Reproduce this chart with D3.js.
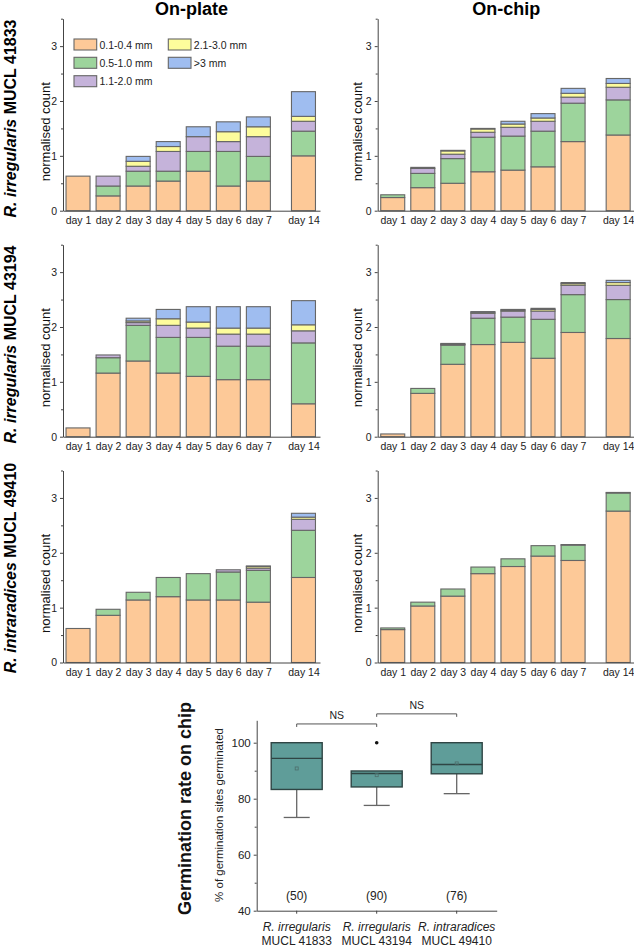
<!DOCTYPE html>
<html><head><meta charset="utf-8">
<script src="https://cdn.jsdelivr.net/npm/d3@7"></script>
<style>body{margin:0;background:#fff;} svg{display:block;font-family:"Liberation Sans",Arial,sans-serif;}</style>
</head><body><svg id="c" width="634" height="947"></svg>
<script>
// ---------- data ----------
const days = ["day 1","day 2","day 3","day 4","day 5","day 6","day 7","day 14"];
const dayNumbers = [1,2,3,4,5,6,7,14];
const sizeClasses = ["0.1-0.4 mm","0.5-1.0 mm","1.1-2.0 mm","2.1-3.0 mm",">3 mm"];
const sizeColors = ["#fdc998","#9dd49c","#c5b3da","#fdfc9c","#9fbdf0"];
const yTicks = [0,1,2,3];
const yMinorTicks = [0.5,1.5,2.5,3.5];
const columnTitles = ["On-plate","On-chip"];
const strainItalic = ["R. irregularis","R. irregularis","R. intraradices"];
const strainCode = ["MUCL 41833","MUCL 43194","MUCL 49410"];

// segment heights per size class (rows) per day (columns)
const plate41833 = [
  [0.63,0.27,0.45,0.54,0.72,0.45,0.54,1.00],
  [0,   0.18,0.27,0.18,0.36,0.63,0.45,0.45],
  [0,   0.18,0.09,0.36,0.27,0.18,0.36,0.18],
  [0,   0,   0.09,0.09,0,   0.18,0.18,0.09],
  [0,   0,   0.09,0.09,0.18,0.18,0.18,0.45]];
const chip41833 = [
  [0.24,0.42,0.50,0.71,0.74,0.80,1.26,1.38],
  [0.05,0.26,0.45,0.63,0.62,0.65,0.70,0.64],
  [0,   0.09,0.08,0.09,0.16,0.18,0.11,0.23],
  [0,   0.02,0.06,0.06,0.06,0.06,0.07,0.07],
  [0,   0,   0.01,0.01,0.05,0.08,0.09,0.09]];
const plate43194 = [
  [0.16,1.16,1.38,1.16,1.10,1.04,1.04,0.60],
  [0,   0.28,0.65,0.65,0.71,0.61,0.61,1.11],
  [0,   0.05,0.05,0.22,0.17,0.22,0.22,0.22],
  [0,   0,   0.03,0.12,0.11,0.11,0.11,0.11],
  [0,   0,   0.05,0.17,0.28,0.39,0.39,0.44]];
const chip43194 = [
  [0.05,0.79,1.32,1.68,1.72,1.43,1.90,1.79],
  [0,   0.09,0.35,0.48,0.46,0.71,0.69,0.71],
  [0,   0,   0.01,0.09,0.11,0.15,0.17,0.26],
  [0,   0,   0.01,0.02,0.02,0.03,0.03,0.05],
  [0,   0,   0.01,0.01,0.01,0.02,0.02,0.04]];
const plate49410 = [
  [0.62,0.86,1.14,1.20,1.14,1.14,1.10,1.55],
  [0,   0.11,0.14,0.35,0.48,0.51,0.58,0.86],
  [0,   0,   0,   0,   0,   0.04,0.04,0.20],
  [0,   0,   0,   0,   0,   0,   0.03,0.04],
  [0,   0,   0,   0,   0,   0,   0.01,0.07]];
const chip49410 = [
  [0.60,1.03,1.21,1.62,1.75,1.94,1.86,2.76],
  [0.03,0.07,0.13,0.12,0.14,0.19,0.28,0.33],
  [0,   0,   0,   0,   0,   0,   0.01,0.01],
  [0,   0,   0,   0,   0,   0,   0,   0],
  [0,   0,   0,   0,   0,   0,   0,   0]];
const panels = [[plate41833, chip41833],[plate43194, chip43194],[plate49410, chip49410]];

// box plot
const boxGroups = ["41833","43194","49410"];
const boxItalic = ["R. irregularis","R. irregularis","R. intraradices"];
const boxCode = ["MUCL 41833","MUCL 43194","MUCL 49410"];
const boxMin = [73.3,77.6,81.8];
const boxQ1 = [83.3,84.2,88.9];
const boxMedian = [94.4,89.0,92.2];
const boxQ3 = [100,89.9,100];
const boxMax = [100,89.9,100];
const boxMean = [90.8,88.4,92.6];
const boxOutliers = [[],[100],[]];
const boxCounts = ["(50)","(90)","(76)"];
const boxTicks = [40,60,80,100];
const boxMinorTicks = [50,70,90];

// ---------- drawing ----------
const svg = d3.select("#c");
const colX = [63, 377.7];
const rowY = [210.7, 436.7, 662.5];
const pw = 257, ph = 192, barW = 24;
const axisCol = "#444";

function styleAxis(g){
  g.selectAll("path,line").attr("stroke",axisCol).attr("stroke-width",1);
  g.selectAll("text").attr("fill","#222").style("font-family",'"Liberation Sans",Arial,sans-serif');
}

// column titles
columnTitles.forEach((t,c)=>{
  svg.append("text").attr("x",colX[c]+pw/2).attr("y",15).attr("text-anchor","middle")
    .attr("font-size",18).attr("font-weight","bold").text(t);
});

// row labels
rowY.forEach((y0,r)=>{
  const cy = [118.5,344.5,568][r];
  const t = svg.append("text").attr("transform",`translate(16,${cy}) rotate(-90)`)
    .attr("text-anchor","middle").attr("font-size",16).attr("font-weight","bold");
  t.append("tspan").attr("font-style","italic").text(strainItalic[r]);
  t.append("tspan").text(" "+strainCode[r]);
});

panels.forEach((row,r)=>{
  row.forEach((series,c)=>{
    const ax = colX[c], y0 = rowY[r];
    const x = d3.scaleLinear().domain([0.5,7,14,14.55])
      .range([ax, ax+6.5/8.55*pw, ax+8/8.55*pw, ax+pw]);
    const y = d3.scaleLinear().domain([0,3.5]).range([y0, y0-ph]);
    const table = dayNumbers.map((d,i)=>{
      const o = {day:d};
      sizeClasses.forEach((k,j)=>o[k]=series[j][i]);
      return o;
    });
    const stack = d3.stack().keys(sizeClasses)(table);
    const g = svg.append("g");
    stack.forEach((s,j)=>{
      g.selectAll(null).data(s.filter(d=>d[1]-d[0]>0)).enter().append("rect")
        .attr("x",d=>x(d.data.day)-barW/2).attr("width",barW)
        .attr("y",d=>y(d[1])).attr("height",d=>y(d[0])-y(d[1]))
        .attr("fill",sizeColors[j]).attr("stroke","#666").attr("stroke-width",1.1);
    });
    // axes
    const ya = svg.append("g").attr("transform",`translate(${ax},0)`)
      .call(d3.axisLeft(y).tickValues(yTicks).tickSize(3).tickSizeOuter(0).tickPadding(3).tickFormat(d3.format("d")));
    ya.selectAll("text").attr("font-size",10.5);
    styleAxis(ya);
    const ym = svg.append("g").attr("transform",`translate(${ax},0)`)
      .call(d3.axisLeft(y).tickValues(yMinorTicks).tickSize(2).tickFormat(""));
    ym.select("path").remove();
    styleAxis(ym);
    const xa = svg.append("g").attr("transform",`translate(0,${y0})`)
      .call(d3.axisBottom(x).tickValues(dayNumbers).tickSize(0).tickSizeOuter(0).tickPadding(6)
        .tickFormat((d,i)=>days[i]));
    xa.selectAll("text").attr("font-size",10.5);
    styleAxis(xa);
    // y label
    svg.append("text").attr("transform",`translate(${ax-(c===0?13:16)},${y0-79}) rotate(-90)`)
      .attr("text-anchor","middle").attr("font-size",13).attr("fill","#111").text("normalised count");
    // legend
    if(r===0 && c===0){
      const lx = [ax+11, ax+105.3], ly = [y0-171.7, y0-153.4, y0-135];
      sizeClasses.forEach((k,j)=>{
        const col = j<3?0:1, rr = j<3?j:j-3;
        svg.append("rect").attr("x",lx[col]).attr("y",ly[rr]).attr("width",22.7).attr("height",11)
          .attr("fill",sizeColors[j]).attr("stroke","#666").attr("stroke-width",1.1);
        svg.append("text").attr("x",lx[col]+25.5).attr("y",ly[rr]+9.5).attr("font-size",10.5)
          .attr("fill","#222").text(k);
      });
    }
  });
});

// ---------- box plot ----------
const by = d3.scaleLinear().domain([40,108]).range([910.7,720.3]);
const bx = d3.scaleBand().domain(boxGroups).range([256.7,496.7]);
const bc = g=>bx(g)+bx.bandwidth()/2;
const boxW = 51, capW = 26;
const bg = svg.append("g");
boxGroups.forEach((g,i)=>{
  const cx = bc(g);
  bg.append("line").attr("x1",cx).attr("x2",cx).attr("y1",by(boxQ1[i])).attr("y2",by(boxMin[i]))
    .attr("stroke","#666").attr("stroke-width",1.3);
  bg.append("line").attr("x1",cx-capW/2).attr("x2",cx+capW/2).attr("y1",by(boxMin[i])).attr("y2",by(boxMin[i]))
    .attr("stroke","#666").attr("stroke-width",1.3);
  bg.append("line").attr("x1",cx).attr("x2",cx).attr("y1",by(boxQ3[i])).attr("y2",by(boxMax[i]))
    .attr("stroke","#666").attr("stroke-width",1.3);
  bg.append("rect").attr("x",cx-boxW/2).attr("width",boxW).attr("y",by(boxQ3[i]))
    .attr("height",by(boxQ1[i])-by(boxQ3[i])).attr("fill","#5f9d99").attr("stroke","#2f4544").attr("stroke-width",1.4);
  bg.append("line").attr("x1",cx-boxW/2).attr("x2",cx+boxW/2).attr("y1",by(boxMedian[i])).attr("y2",by(boxMedian[i]))
    .attr("stroke","#2f4544").attr("stroke-width",1.4);
  bg.append("rect").attr("x",cx-1.5).attr("y",by(boxMean[i])-1.5).attr("width",3).attr("height",3)
    .attr("fill","none").attr("stroke","#4d6e6c").attr("stroke-width",0.8);
  boxOutliers[i].forEach(v=>{
    bg.append("circle").attr("cx",cx).attr("cy",by(v)).attr("r",1.8).attr("fill","#111");
  });
  bg.append("text").attr("x",cx).attr("y",by(45.6)+4.5).attr("text-anchor","middle").attr("font-size",12)
    .attr("fill","#222").text(boxCounts[i]);
  bg.append("text").attr("x",cx).attr("y",931).attr("text-anchor","middle").attr("font-size",12)
    .attr("font-style","italic").attr("fill","#222").text(boxItalic[i]);
  bg.append("text").attr("x",cx).attr("y",945).attr("text-anchor","middle").attr("font-size",12)
    .attr("fill","#222").text(boxCode[i]);
});
const bya = svg.append("g").attr("transform","translate(256.7,0)")
  .call(d3.axisLeft(by).tickValues(boxTicks).tickSize(3).tickSizeOuter(0).tickPadding(3));
bya.selectAll("text").attr("font-size",11.5);
styleAxis(bya);
const bym = svg.append("g").attr("transform","translate(256.7,0)")
  .call(d3.axisLeft(by).tickValues(boxMinorTicks).tickSize(2).tickFormat(""));
bym.select("path").remove(); styleAxis(bym);
const bxa = svg.append("g").attr("transform","translate(0,910.7)")
  .call(d3.axisBottom(bx).tickSize(3).tickSizeOuter(0).tickFormat(""));
styleAxis(bxa);

// significance brackets
const brackets = [[0,1,106.7],[1,2,110.3]];
brackets.forEach(([a,b,v])=>{
  const x1 = bc(boxGroups[a]), x2 = bc(boxGroups[b]), yy = by(v);
  svg.append("path").attr("d",`M${x1},${yy+3}V${yy}H${x2}V${yy+3}`).attr("fill","none")
    .attr("stroke","#555").attr("stroke-width",1);
  svg.append("text").attr("x",(x1+x2)/2).attr("y",yy-5).attr("text-anchor","middle")
    .attr("font-size",10.5).attr("fill","#222").text("NS");
});

svg.append("text").attr("transform","translate(223,815) rotate(-90)").attr("text-anchor","middle")
  .attr("font-size",11.5).attr("fill","#222").text("% of germination sites germinated");
svg.append("text").attr("transform","translate(191,808.5) rotate(-90)").attr("text-anchor","middle")
  .attr("font-size",18).attr("font-weight","bold").attr("fill","#111").text("Germination rate on chip");
</script></body></html>
